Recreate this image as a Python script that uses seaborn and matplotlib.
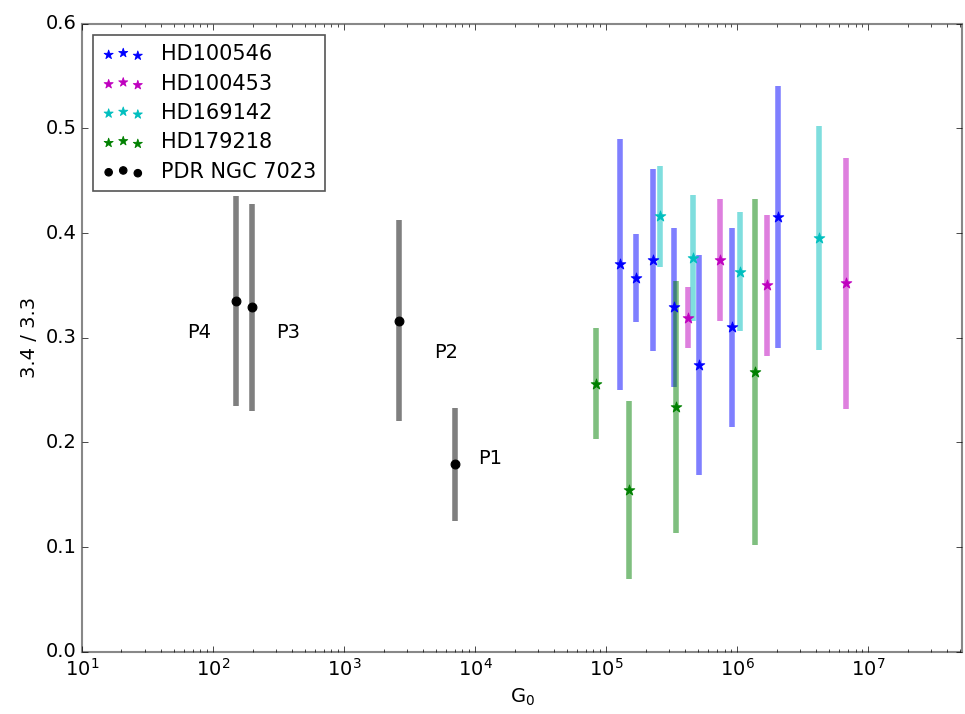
import matplotlib
matplotlib.use("Agg")
import matplotlib.pyplot as plt
import seaborn as sns
import numpy as np
import pandas as pd

plt.style.use("classic")
plt.rcParams["mathtext.fontset"] = "dejavusans"
plt.rcParams["mathtext.default"] = "regular"
plt.rcParams["font.family"] = ["DejaVu Sans"]
plt.rcParams["font.size"] = 14

# ---- data ----
series_names = ["HD100546", "HD100453", "HD169142", "HD179218", "PDR NGC 7023"]
series_colors = ["b", "m", "c", "g", "k"]

hd100546_g0 = [1.28e5, 1.69e5, 2.28e5, 3.3e5, 5.13e5, 9.16e5, 2.06e6]
hd100546_ratio = [0.370, 0.357, 0.374, 0.329, 0.274, 0.310, 0.415]
hd100546_err = [0.120, 0.042, 0.087, 0.076, 0.105, 0.095, 0.125]

hd100453_g0 = [4.23e5, 7.4e5, 1.69e6, 6.8e6]
hd100453_ratio = [0.319, 0.374, 0.350, 0.352]
hd100453_err = [0.029, 0.058, 0.067, 0.120]

hd169142_g0 = [2.58e5, 4.6e5, 1.05e6, 4.2e6]
hd169142_ratio = [0.416, 0.376, 0.363, 0.395]
hd169142_err = [0.048, 0.060, 0.057, 0.107]

hd179218_g0 = [8.4e4, 1.5e5, 3.42e5, 1.37e6]
hd179218_ratio = [0.256, 0.155, 0.234, 0.267]
hd179218_err = [0.053, 0.085, 0.120, 0.165]

pdr_labels = ["P4", "P3", "P2", "P1"]
pdr_g0 = [150, 199, 2630, 7030]
pdr_ratio = [0.335, 0.329, 0.316, 0.179]
pdr_err = [0.100, 0.099, 0.096, 0.054]
pdr_label_g0 = [78, 374, 6000, 13000]
pdr_label_ratio = [0.305, 0.305, 0.286, 0.185]

series_g0 = [hd100546_g0, hd100453_g0, hd169142_g0, hd179218_g0, pdr_g0]
series_ratio = [hd100546_ratio, hd100453_ratio, hd169142_ratio, hd179218_ratio, pdr_ratio]
series_err = [hd100546_err, hd100453_err, hd169142_err, hd179218_err, pdr_err]

fig = plt.figure(figsize=(9.65, 7.14), dpi=100, facecolor="white")
ax = fig.add_axes([0.085, 0.087, 0.912, 0.880])
ax.set_facecolor("white")

handles = []
for name, col, gx, gy, ge in zip(series_names, series_colors, series_g0, series_ratio, series_err):
    ax.errorbar(gx, gy, yerr=ge, fmt="none", ecolor=col, elinewidth=4.0,
                alpha=0.5, capsize=0, zorder=2)
    df = pd.DataFrame({"G0": gx, "ratio": gy})
    if name.startswith("PDR"):
        sns.scatterplot(data=df, x="G0", y="ratio", ax=ax, color=col, marker="o",
                        s=40, edgecolor=col, linewidth=0.8, legend=False, zorder=3)
    else:
        sns.scatterplot(data=df, x="G0", y="ratio", ax=ax, color=col, marker="*",
                        s=65, edgecolor=col, linewidth=0.6, legend=False, zorder=3)
    handles.append(ax.collections[-1])

for lab, lx, ly in zip(pdr_labels, pdr_label_g0, pdr_label_ratio):
    ax.text(lx, ly, lab, fontsize=14, ha="center", va="center")

ax.set_xscale("log")
ax.set_xlim(10, 5.2e7)
ax.set_ylim(0.0, 0.6)
ax.set_yticks([0.0, 0.1, 0.2, 0.3, 0.4, 0.5, 0.6])
ax.set_xlabel(r"G$_0$", fontsize=14)
ax.set_ylabel("3.4 / 3.3", fontsize=14)
ax.tick_params(axis="both", which="both", direction="in", top=True, right=True, labelsize=14)
for sp in ax.spines.values():
    sp.set_color("#888888")
    sp.set_linewidth(1.5)

leg = ax.legend(handles, series_names, loc="upper left", scatterpoints=3,
                scatteryoffsets=[0.375, 0.5, 0.3125], fontsize=15, frameon=True,
                fancybox=False, borderpad=0.45, labelspacing=0.45, handletextpad=0.8,
                handlelength=2.0, markerscale=0.85, borderaxespad=0.0,
                bbox_to_anchor=(0.0125, 0.982))
leg.get_frame().set_edgecolor("#555555")
leg.get_frame().set_linewidth(1.2)
leg.set_zorder(5)

fig.savefig("out.png", dpi=100, facecolor="white")
